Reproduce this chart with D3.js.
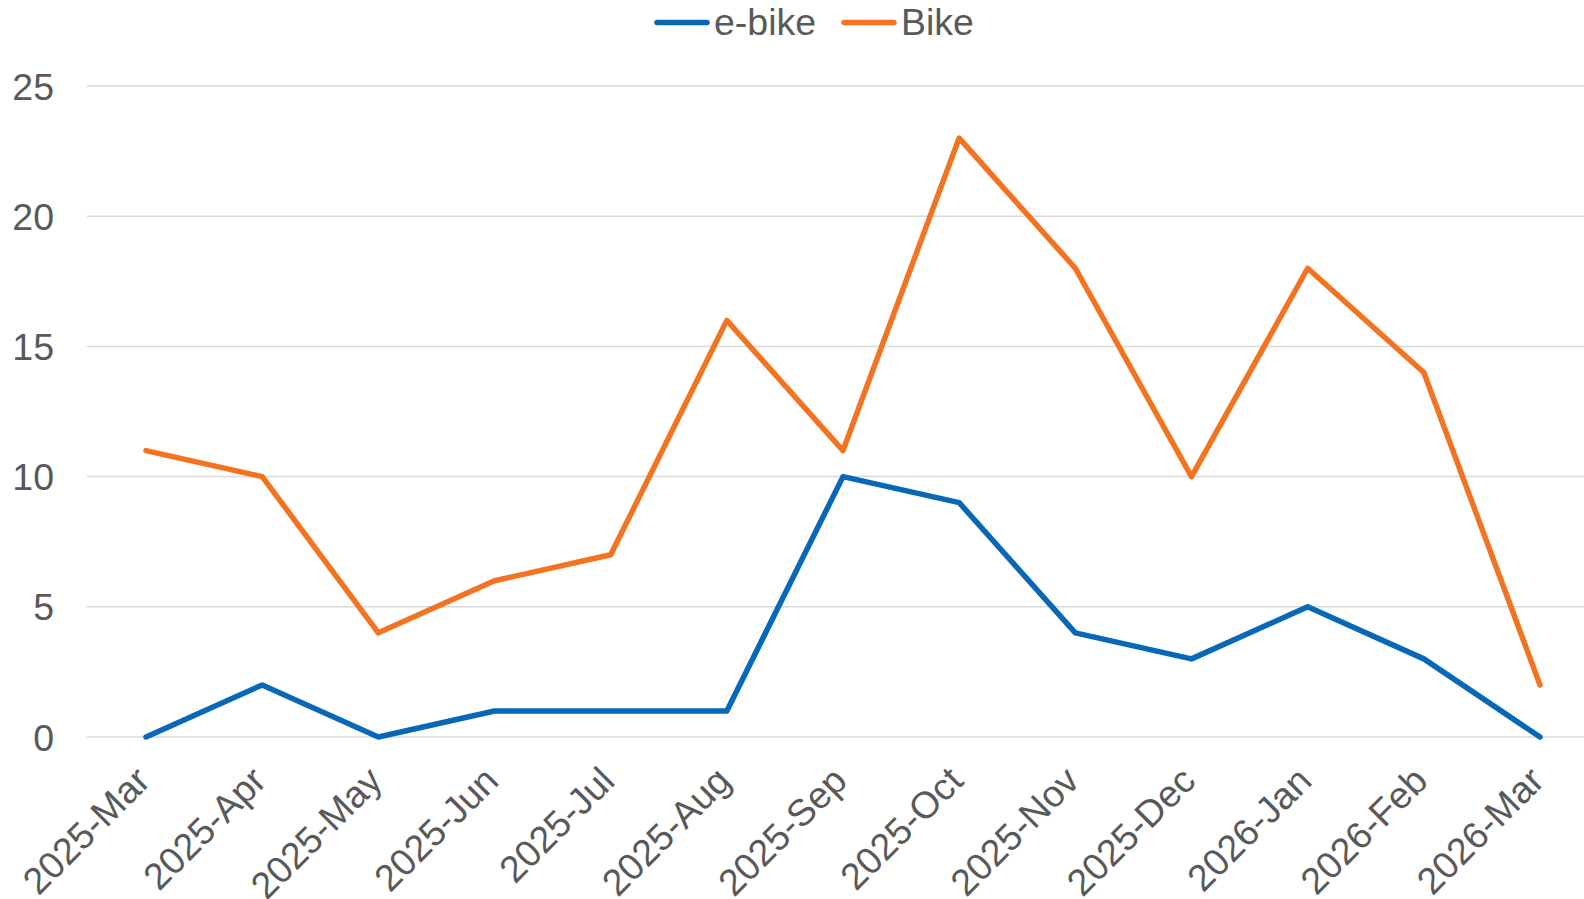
<!DOCTYPE html>
<html>
<head>
<meta charset="utf-8">
<script src="https://cdn.jsdelivr.net/npm/d3@7"></script>
<style>
html, body { margin: 0; padding: 0; background: #fff; overflow: hidden; }
svg { display: block; font-family: "Liberation Sans", Arial, sans-serif; }
</style>
</head>
<body>
<svg id="chart" width="1584" height="899"></svg>
<script>
const categories = ["2025-Mar","2025-Apr","2025-May","2025-Jun","2025-Jul","2025-Aug","2025-Sep","2025-Oct","2025-Nov","2025-Dec","2026-Jan","2026-Feb","2026-Mar"];
const ebike = [0,2,0,1,1,1,10,9,4,3,5,3,0];
const bike = [11,10,4,6,7,16,11,23,18,10,18,14,2];
const yTicks = [0,5,10,15,20,25];
const seriesNames = ["e-bike","Bike"];
const seriesColors = ["#0868B8","#F47320"];

const W = 1584, H = 899;
const svg = d3.select("#chart");
const gridLeft = 87, gridRight = W;
const x = d3.scalePoint().domain(categories).range([146, 1540]);
const y = d3.scaleLinear().domain([0, 25]).range([737, 86]);
const textColor = "#595959";
const fs = "37.5px";

// gridlines
svg.append("g").selectAll("line").data(yTicks).join("line")
  .attr("x1", gridLeft).attr("x2", gridRight)
  .attr("y1", d => y(d)).attr("y2", d => y(d))
  .attr("stroke", "#d9d9d9").attr("stroke-width", 1.5);

// y axis labels
const yAxis = d3.axisLeft(y).tickValues(yTicks).tickSize(0).tickPadding(0);
const gy = svg.append("g").attr("transform", "translate(54,0)").call(yAxis);
gy.select(".domain").remove();
gy.selectAll("text").attr("fill", textColor).style("font-size", fs)
  .style("font-family", "'Liberation Sans', Arial, sans-serif").attr("dy", "0.35em");

// x axis labels
const xAxis = d3.axisBottom(x).tickSize(0).tickPadding(0);
const gx = svg.append("g").call(xAxis);
gx.select(".domain").remove();
gx.selectAll(".tick").attr("transform", d => `translate(${x(d) + 6},783)`);
gx.selectAll("text")
  .attr("fill", textColor).style("font-size", fs)
  .style("font-family", "'Liberation Sans', Arial, sans-serif")
  .attr("text-anchor", "end").attr("dy", 0).attr("y", 0).attr("x", 0)
  .attr("transform", "rotate(-45)");

// lines
const series = [ebike, bike];
const line = d3.line().x((d, i) => x(categories[i])).y(d => y(d));
series.forEach((s, k) => {
  svg.append("path").datum(s)
    .attr("d", line)
    .attr("fill", "none")
    .attr("stroke", seriesColors[k])
    .attr("stroke-width", 5.5)
    .attr("stroke-linejoin", "round")
    .attr("stroke-linecap", "round");
});

// legend
const legendItems = [
  {name: seriesNames[0], color: seriesColors[0], x0: 654},
  {name: seriesNames[1], color: seriesColors[1], x0: 841}
];
legendItems.forEach(it => {
  svg.append("line").attr("x1", it.x0 + 3).attr("x2", it.x0 + 53)
    .attr("y1", 22.5).attr("y2", 22.5)
    .attr("stroke", it.color).attr("stroke-width", 5.5).attr("stroke-linecap", "round");
  svg.append("text").attr("x", it.x0 + 60).attr("y", 35)
    .attr("fill", textColor).style("font-size", fs).text(it.name);
});
</script>
</body>
</html>
